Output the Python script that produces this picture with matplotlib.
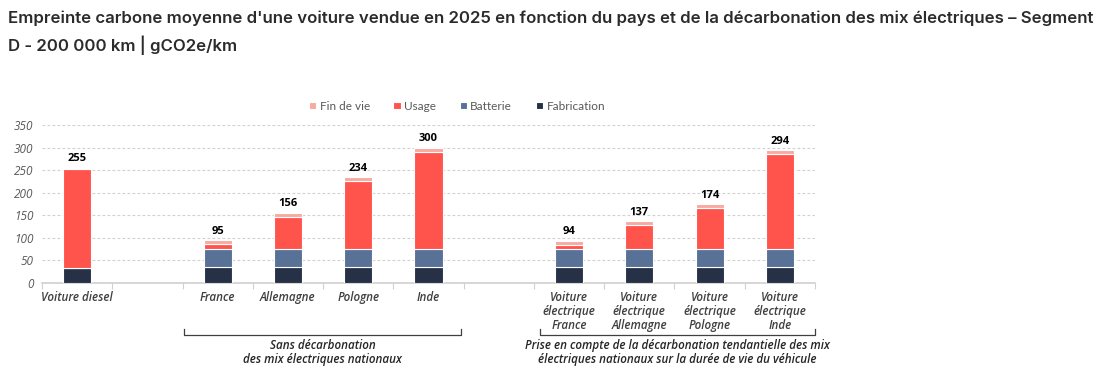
import numpy as np
import matplotlib
matplotlib.use('Agg')
import matplotlib.pyplot as plt

categories = ['Voiture diesel', '', 'France', 'Allemagne', 'Pologne', 'Inde', '',
              'Voiture\nélectrique\nFrance', 'Voiture\nélectrique\nAllemagne',
              'Voiture\nélectrique\nPologne', 'Voiture\nélectrique\nInde']
fabrication = [34, 0, 36, 36, 36, 36, 0, 36, 36, 36, 36]
batterie = [0, 0, 40, 40, 40, 40, 0, 40, 40, 40, 40]
usage = [218, 0, 10, 71, 150, 215, 0, 9, 52, 90, 210]
fin_de_vie = [3, 0, 9, 9, 8, 9, 0, 9, 9, 8, 8]
totaux = [255, None, 95, 156, 234, 300, None, 94, 137, 174, 294]
series_noms = ['Fin de vie', 'Usage', 'Batterie', 'Fabrication']

groupe1 = "Sans décarbonation\ndes mix électriques nationaux"
groupe2 = "Prise en compte de la décarbonation tendantielle des mix\nélectriques nationaux sur la durée de vie du véhicule"

c_fab = '#263147'
c_bat = '#587196'
c_usage = '#ff544c'
c_fin = '#f7aa9f'

fig = plt.figure(figsize=(11.04, 3.83), dpi=100)
ax = fig.add_axes([42/1104, 1-283/383, (815-42)/1104, (283-125)/383])

x = np.arange(len(categories))
w = 0.4
fab = np.array(fabrication)
bat = np.array(batterie)
us = np.array(usage)
fin = np.array(fin_de_vie)
mask = (fab + bat + us + fin) > 0

b_fab = ax.bar(x[mask], fab[mask], w, color=c_fab, edgecolor='white', linewidth=0.8, zorder=3)
b_bat = ax.bar(x[mask], bat[mask], w, bottom=fab[mask], color=c_bat, edgecolor='white', linewidth=0.8, zorder=3)
b_us = ax.bar(x[mask], us[mask], w, bottom=(fab+bat)[mask], color=c_usage, edgecolor='white', linewidth=0.8, zorder=3)
b_fin = ax.bar(x[mask], fin[mask], w, bottom=(fab+bat+us)[mask], color=c_fin, edgecolor='white', linewidth=0.8, zorder=3)

for i, t in enumerate(totaux):
    if t is not None:
        ax.annotate(str(t), (x[i], fab[i]+bat[i]+us[i]+fin[i]), xytext=(0, 2.5),
                    textcoords='offset points', ha='center', va='bottom',
                    fontsize=8, fontweight='bold', color='black', family='Open Sans')

ax.set_xlim(-0.5, len(categories) - 0.5)
ax.set_ylim(0, 350)
ax.set_yticks(range(0, 351, 50))
ax.yaxis.grid(True, linestyle=(0, (2.5, 2)), color='#d0d0d0', linewidth=0.8, zorder=0)
for s in ['top', 'right', 'left']:
    ax.spines[s].set_visible(False)
ax.spines['bottom'].set_color('#d0d0d0')
ax.spines['bottom'].set_linewidth(1.2)
ax.tick_params(axis='y', length=0, pad=6, labelsize=8.5, labelcolor='#595959')
for lab in ax.get_yticklabels():
    lab.set_fontstyle('italic')
    lab.set_family('Open Sans')

ax.set_xticks(np.arange(-0.5, len(categories), 1), minor=False)
ax.set_xticklabels([])
ax.tick_params(axis='x', which='major', length=4, color='#d0d0d0', direction='out')
ax.set_xticks(x, minor=True)
ax.set_xticklabels(categories, minor=True)
ax.tick_params(axis='x', which='minor', length=0, pad=6, labelsize=8.4, labelcolor='#404040')
for lab in ax.get_xticklabels(minor=True):
    lab.set_fontstyle('italic')
    lab.set_fontweight('semibold')
    lab.set_family('Open Sans')
    lab.set_linespacing(1.1)

# accolades sous les groupes
tr = ax.get_xaxis_transform()
y_h = (283-335)/158
y_v = (283-329)/158
for x0, x1 in [(1.52, 5.46), (6.58, 10.5)]:
    ax.plot([x0, x0, x1, x1], [y_v, y_h, y_h, y_v], color='#404040', linewidth=0.9,
            transform=tr, clip_on=False)
ax.text(3.49, (283-352.5)/158, groupe1, transform=tr, ha='center', va='center',
        fontsize=8.4, fontstyle='italic', fontweight='semibold', color='#262626',
        family='Open Sans', linespacing=1.1)
ax.text(8.54, (283-352.5)/158, groupe2, transform=tr, ha='center', va='center',
        fontsize=8.4, fontstyle='italic', fontweight='semibold', color='#262626',
        family='Open Sans', linespacing=1.1)

leg = ax.legend([b_fin, b_us, b_bat, b_fab], series_noms, loc='center',
                bbox_to_anchor=(457/1104, 1-106/383),
                bbox_transform=fig.transFigure, ncol=4, frameon=False,
                handlelength=0.6, handleheight=0.6, handletextpad=0.3, columnspacing=2.0,
                labelcolor='#595959', prop={'family': 'Lato', 'size': 8.5})

fig.text(8/1104, 1-18/383, "Empreinte carbone moyenne d'une voiture vendue en 2025 en fonction du pays et de la décarbonation des mix électriques – Segment",
         ha='left', va='center', fontsize=12.1, fontweight='semibold', color='#2b2b2b', family='Inter')
fig.text(8/1104, 1-45/383, "D - 200 000 km | gCO2e/km",
         ha='left', va='center', fontsize=12.1, fontweight='semibold', color='#2b2b2b', family='Inter')

fig.savefig('out.png', dpi=100)
